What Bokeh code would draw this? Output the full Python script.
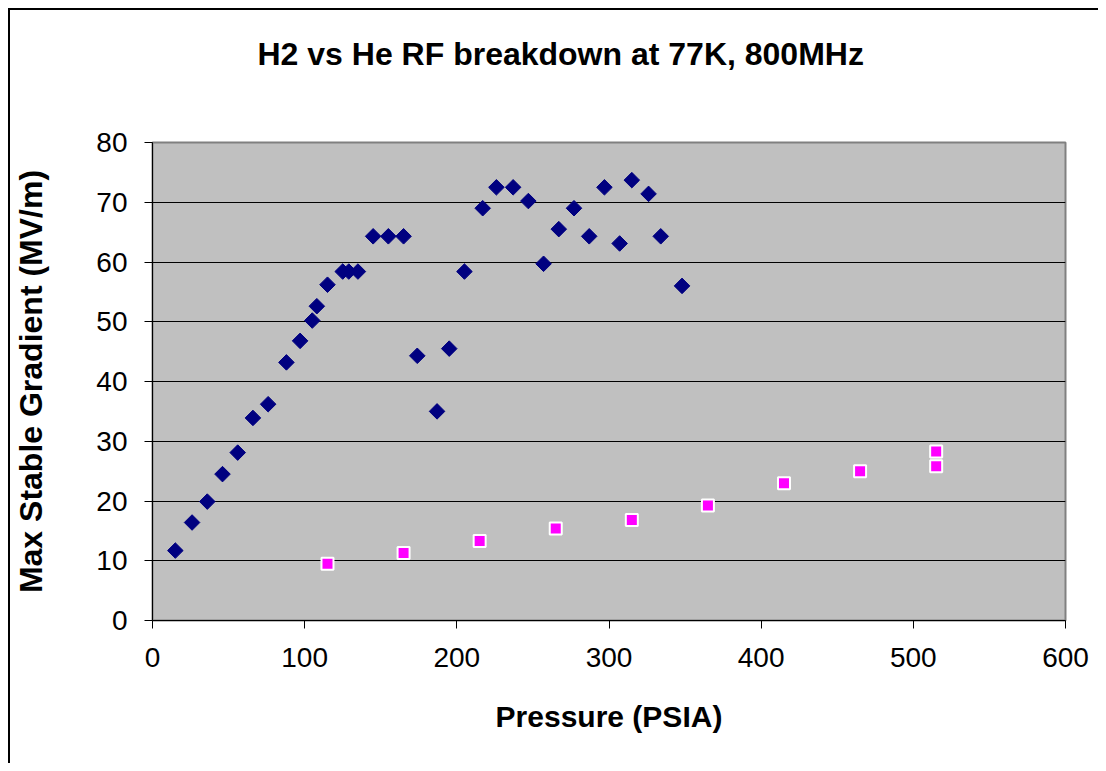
import math
from bokeh.plotting import figure
from bokeh.models import Range1d, FixedTicker, ColumnDataSource, Title
from bokeh.embed import file_html
from bokeh.resources import INLINE

# H2 data (pressure PSIA, max stable gradient MV/m)
h2_pressure = [15, 26, 36, 46, 56, 66, 76, 88, 97, 105, 108, 115, 125, 129, 135,
               145, 155, 165, 174, 187, 195, 205, 217, 226, 237, 247, 257, 267,
               277, 287, 297, 307, 315, 326, 334, 348]
h2_gradient = [11.7, 16.4, 19.9, 24.5, 28.1, 33.9, 36.2, 43.2, 46.8, 50.2, 52.6,
               56.2, 58.4, 58.4, 58.4, 64.3, 64.3, 64.3, 44.3, 35.0, 45.5, 58.4,
               69.0, 72.5, 72.5, 70.2, 59.7, 65.5, 69.0, 64.3, 72.5, 63.1, 73.7,
               71.4, 64.3, 56.0]

# He data
he_pressure = [115, 165, 215, 265, 315, 365, 415, 465, 515, 515]
he_gradient = [9.5, 11.3, 13.3, 15.4, 16.8, 19.25, 22.95, 25.0, 25.8, 28.3]

x_ticks = [0, 100, 200, 300, 400, 500, 600]
y_ticks = [0, 10, 20, 30, 40, 50, 60, 70, 80]

title_text = "H2 vs He RF breakdown at 77K, 800MHz"
x_label = "Pressure (PSIA)"
y_label = "Max Stable Gradient (MV/m)"

FONT = "Liberation Sans"

p = figure(width=1090, height=755, output_backend="svg", toolbar_location=None,
           x_range=Range1d(0, 600), y_range=Range1d(0, 80),
           min_border_left=138, min_border_top=132, min_border_right=35,
           min_border_bottom=145)
p.margin = (8, 0, 0, 8)
p.styles = {"border-left": "2px solid black", "border-top": "2px solid black"}
p.title.text = ""

# blank spacer nearest the frame, then the real title outside it
p.add_layout(Title(text=" ", text_font=FONT, text_font_size="10px", standoff=58,
                   text_color="white"), "above")
p.add_layout(Title(text=title_text, align="left", offset=105, standoff=0,
                   text_font=FONT, text_font_size="32px", text_font_style="bold",
                   text_color="black"), "above")

p.background_fill_color = "#C0C0C0"
p.border_fill_color = "white"
p.outline_line_color = "#808080"
p.outline_line_width = 2

p.xgrid.grid_line_color = None
p.ygrid.ticker = FixedTicker(ticks=y_ticks)
p.ygrid.grid_line_color = "black"
p.ygrid.grid_line_width = 1

for ax, ticks in ((p.xaxis[0], x_ticks), (p.yaxis[0], y_ticks)):
    ax.ticker = FixedTicker(ticks=ticks)
    ax.minor_tick_line_color = None
    ax.major_tick_in = 0
    ax.major_tick_out = 8
    ax.major_tick_line_color = "black"
    ax.axis_line_color = "black"
    ax.axis_line_width = 1
    ax.major_label_text_font = FONT
    ax.major_label_text_font_size = "28px"
    ax.major_label_text_color = "black"
    ax.axis_label_text_font = FONT
    ax.axis_label_text_font_style = "bold"
    ax.axis_label_text_color = "black"

p.xaxis.axis_label = x_label
p.yaxis.axis_label = y_label
p.xaxis.axis_label_text_font_size = "30px"
p.yaxis.axis_label_text_font_size = "32px"
p.xaxis.major_label_standoff = 19
p.yaxis.major_label_standoff = 17
p.xaxis.axis_label_standoff = 30
p.yaxis.axis_label_standoff = 44

h2_src = ColumnDataSource(dict(x=h2_pressure, y=h2_gradient))
he_src = ColumnDataSource(dict(x=he_pressure, y=he_gradient))

p.scatter("x", "y", source=h2_src, marker="square", angle=math.pi / 4,
          size=11, fill_color="#000080", line_color="#000080", line_width=1)
p.scatter("x", "y", source=he_src, marker="square", size=12,
          fill_color="#FF00FF", line_color="white", line_width=2)

open("out.html", "w").write(file_html(p, INLINE))
